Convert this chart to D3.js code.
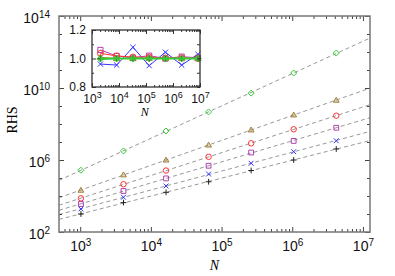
<!DOCTYPE html>
<html>
<head>
<meta charset="utf-8">
<script src="https://cdn.jsdelivr.net/npm/d3@7"></script>
<style>
  body { margin: 0; background: #fff; }
  svg { font-family: "Liberation Serif", "DejaVu Serif", serif; }
</style>
</head>
<body>
<script>

// main plot data
var nMain = [1024, 4096, 16384, 65536, 262144, 1048576, 4194304];
var rhsGreen  = [2.7e5, 3.2e6, 4.1e7, 4.7e8, 5.2e9, 6.8e10, 8.7e11];
var rhsBrown  = [2.1e4, 1.5e5, 1.0e6, 6.8e6, 4.7e7, 3.2e8, 2.1e9];
var rhsRed    = [7.4e3, 4.5e4, 2.6e5, 1.5e6, 8.5e6, 5.1e7, 2.9e8];
var rhsPurple = [3.6e3, 1.9e4, 9.5e4, 4.8e5, 2.6e6, 1.15e7, 6.2e7];
var rhsBlue   = [1.9e3, 8.5e3, 3.6e4, 1.66e5, 6.6e5, 2.9e6, 1.17e7];
var rhsBlack  = [1.0e3, 4.3e3, 1.6e4, 6.2e4, 2.6e5, 1.0e6, 4.1e6];

// inset data (ratio)
var nInset = [2048, 8192, 32768, 131072, 524288, 2097152, 8388608];
var ratioBlue   = [0.961, 0.954, 1.079, 0.950, 1.044, 0.954, 1.030];
var ratioPurple = [1.060, 1.018, 1.005, 1.020, 1.000, 1.013, 1.005];
var ratioRed    = [1.036, 1.018, 1.010, 1.010, 1.003, 1.005, 1.000];
var ratioBrown  = [1.008, 1.000, 1.000, 1.002, 1.000, 1.000, 1.000];
var ratioBlack  = [1.000, 1.000, 1.000, 1.000, 1.000, 1.000, 1.000];
var ratioGreen  = [0.998, 1.000, 1.000, 1.000, 1.000, 1.000, 1.000];

var xTicksMain = [1e3, 1e4, 1e5, 1e6, 1e7];
var yTicksMain = [1e2, 1e6, 1e10, 1e14];
var xTicksInset = [1e3, 1e4, 1e5, 1e6, 1e7];
var yTicksInset = [0.8, 1.0, 1.2];

var series = [
    {main: rhsGreen,  inset: ratioGreen,  color: "#33cc33", sym: "diamond"},
    {main: rhsBrown,  inset: ratioBrown,  color: "#a08038", sym: "triangle"},
    {main: rhsRed,    inset: ratioRed,    color: "#ff3333", sym: "circle"},
    {main: rhsPurple, inset: ratioPurple, color: "#b040b0", sym: "square"},
    {main: rhsBlue,   inset: ratioBlue,   color: "#3333ff", sym: "x"},
    {main: rhsBlack,  inset: ratioBlack,  color: "#222222", sym: "plus"}
];
var insetOrder = [4, 3, 2, 1, 5, 0];

var w = 395, h = 276;
var margin = {top: 16, left: 59, right: 25, bottom: 44};
var width = w - margin.left - margin.right;
var height = h - margin.top - margin.bottom;

var svg = d3.select("body").append("svg")
    .attr("width", w)
    .attr("height", h);

var chart = svg.append("g")
    .attr("transform", "translate(" + margin.left + "," + margin.top + ")");

var x = d3.scaleLog()
    .domain([Math.pow(10, 2.7), Math.pow(10, 7.1)])
    .range([0, width]);

var y = d3.scaleLog()
    .domain([1e2, 1e14])
    .range([height, 0]);

// marker path
var markerPath = function(type, s) {
    if (type === "x") {
        return "M" + (-s) + "," + (-s) + "L" + s + "," + s + "M" + (-s) + "," + s + "L" + s + "," + (-s);
    }
    if (type === "plus") {
        return "M" + (-s * 1.2) + ",0L" + (s * 1.2) + ",0M0," + (-s * 1.2) + "L0," + (s * 1.2);
    }
    if (type === "diamond") {
        return "M0," + (-s * 1.25) + "L" + (s * 1.25) + ",0L0," + (s * 1.25) + "L" + (-s * 1.25) + ",0Z";
    }
    if (type === "triangle") {
        return "M0," + (-s * 1.2) + "L" + (s * 1.2) + "," + (s * 0.85) + "L" + (-s * 1.2) + "," + (s * 0.85) + "Z";
    }
    if (type === "square") {
        return "M" + (-s) + "," + (-s) + "H" + s + "V" + s + "H" + (-s) + "Z";
    }
    return d3.symbol().type(d3.symbolCircle).size(Math.PI * s * s * 1.3)();
};

var supLabel = function(sel, size) {
    sel.each(function(d) {
        var t = d3.select(this);
        var e = Math.round(Math.log10(d));
        t.text(null);
        t.append("tspan").text("10");
        t.append("tspan").attr("dy", "-0.45em").attr("font-size", size).text(e);
    });
};

var logMinor = function(lo, hi) {
    var out = [];
    for (var p = Math.floor(Math.log10(lo)); p <= Math.ceil(Math.log10(hi)); p++) {
        for (var k = 1; k < 10; k++) {
            var v = k * Math.pow(10, p);
            if (v >= lo && v <= hi) out.push(v);
        }
    }
    return out;
};

// dashed fit lines (least squares in log-log)
series.forEach(function(s) {
    var lx = nMain.map(function(d) { return Math.log10(d); });
    var ly = s.main.map(function(d) { return Math.log10(d); });
    var mx = d3.mean(lx), my = d3.mean(ly);
    var num = d3.sum(lx, function(d, i) { return (d - mx) * (ly[i] - my); });
    var den = d3.sum(lx, function(d) { return (d - mx) * (d - mx); });
    var b = num / den, a = my - b * mx;
    var xd = x.domain();
    var pts = xd.map(function(d) { return [d, Math.pow(10, a + b * Math.log10(d))]; });
    chart.append("line")
        .style("stroke", "#999")
        .style("stroke-width", 1)
        .style("stroke-dasharray", "4,3")
        .attr("x1", x(pts[0][0]))
        .attr("y1", y(pts[0][1]))
        .attr("x2", x(pts[1][0]))
        .attr("y2", y(pts[1][1]));
});

// markers in main plot
series.forEach(function(s) {
    chart.selectAll(null)
        .data(s.main)
        .enter()
        .append("path")
        .attr("transform", function(d, i) { return "translate(" + x(nMain[i]) + "," + y(d) + ")"; })
        .attr("d", markerPath(s.sym, 2.4))
        .style("fill", s.sym === "triangle" ? "rgba(160,128,56,0.35)" : "none")
        .style("stroke", s.color)
        .style("stroke-width", 1);
});

// axes main
var axisColor = "#777";

var xMinor = logMinor(x.domain()[0], x.domain()[1]).filter(function(d) { return xTicksMain.indexOf(d) < 0; });
var yMinor = [];
for (var p = 3; p <= 13; p++) { if (yTicksMain.indexOf(Math.pow(10, p)) < 0) yMinor.push(Math.pow(10, p)); }

var xAxis = d3.axisBottom(x).tickValues(xTicksMain).tickSizeInner(-5).tickSizeOuter(0).tickPadding(9);
var xAxisTop = d3.axisTop(x).tickValues(xTicksMain).tickSizeInner(-5).tickSizeOuter(0).tickFormat("");
var xAxisMinor = d3.axisBottom(x).tickValues(xMinor).tickSizeInner(-3).tickSizeOuter(0).tickFormat("");
var xAxisMinorTop = d3.axisTop(x).tickValues(xMinor).tickSizeInner(-3).tickSizeOuter(0).tickFormat("");
var yAxis = d3.axisLeft(y).tickValues(yTicksMain).tickSizeInner(-5).tickSizeOuter(0).tickPadding(9);
var yAxisRight = d3.axisRight(y).tickValues(yTicksMain).tickSizeInner(-5).tickSizeOuter(0).tickFormat("");
var yAxisMinor = d3.axisLeft(y).tickValues(yMinor).tickSizeInner(-3).tickSizeOuter(0).tickFormat("");
var yAxisMinorRight = d3.axisRight(y).tickValues(yMinor).tickSizeInner(-3).tickSizeOuter(0).tickFormat("");

var gx = chart.append("g").attr("transform", "translate(0," + height + ")").call(xAxis);
chart.append("g").attr("transform", "translate(0," + height + ")").call(xAxisMinor);
chart.append("g").call(xAxisTop);
chart.append("g").call(xAxisMinorTop);
var gy = chart.append("g").call(yAxis);
chart.append("g").call(yAxisMinor);
chart.append("g").attr("transform", "translate(" + width + ",0)").call(yAxisRight);
chart.append("g").attr("transform", "translate(" + width + ",0)").call(yAxisMinorRight);

chart.selectAll(".domain").remove();
chart.selectAll(".tick line").style("stroke", "#444");

gx.selectAll("text").style("font-size", "14px").style("fill", "#111").call(supLabel, "10px");
gy.selectAll("text").style("font-size", "14px").style("fill", "#111").attr("dy", "0.45em").call(supLabel, "10px");

chart.append("rect")
    .attr("width", width)
    .attr("height", height)
    .style("fill", "none")
    .style("stroke", axisColor)
    .style("stroke-width", 1.5);

svg.append("text")
    .attr("x", margin.left + x(Math.pow(10, 4.9)))
    .attr("y", 270)
    .attr("text-anchor", "middle")
    .style("font-size", "14px")
    .style("font-style", "italic")
    .text("N");

svg.append("text")
    .attr("transform", "translate(17,120) rotate(-90)")
    .attr("text-anchor", "middle")
    .style("font-size", "14px")
    .text("RHS");

// inset
var inset = svg.append("g").attr("transform", "translate(92,30)");
var iw = 108, ih = 57;

var xi = d3.scaleLog().domain([1e3, 1e7]).range([0, iw]);
var yi = d3.scaleLinear().domain([0.8, 1.2]).range([ih, 0]);

inset.append("rect").attr("width", iw).attr("height", ih).style("fill", "#fff");

var line = d3.line()
    .x(function(d, i) { return xi(nInset[i]); })
    .y(function(d) { return yi(d); });

insetOrder.forEach(function(k) {
    var s = series[k];
    inset.append("path")
        .datum(s.inset)
        .attr("d", line)
        .style("fill", "none")
        .style("stroke", s.color)
        .style("stroke-width", s.sym === "diamond" ? 2.2 : 1);
    inset.selectAll(null)
        .data(s.inset)
        .enter()
        .append("path")
        .attr("transform", function(d, i) { return "translate(" + xi(nInset[i]) + "," + yi(d) + ")"; })
        .attr("d", markerPath(s.sym, 2.6))
        .style("fill", s.sym === "diamond" || s.sym === "triangle" ? s.color : "none")
        .style("fill-opacity", 0.5)
        .style("stroke", s.color)
        .style("stroke-width", 1);
});

var xiMinor = logMinor(1e3, 1e7).filter(function(d) { return xTicksInset.indexOf(d) < 0; });
var yiMinor = [0.9, 1.1];

var xiAxis = d3.axisBottom(xi).tickValues(xTicksInset).tickSizeInner(-4).tickSizeOuter(0).tickPadding(7);
inset.append("g").attr("transform", "translate(0," + ih + ")").call(xiAxis)
    .selectAll("text").style("font-size", "12px").style("fill", "#111").call(supLabel, "9px");
inset.append("g").attr("transform", "translate(0," + ih + ")")
    .call(d3.axisBottom(xi).tickValues(xiMinor).tickSizeInner(-2).tickSizeOuter(0).tickFormat(""));
inset.append("g").call(d3.axisTop(xi).tickValues(xTicksInset).tickSizeInner(-4).tickSizeOuter(0).tickFormat(""));
inset.append("g").call(d3.axisTop(xi).tickValues(xiMinor).tickSizeInner(-2).tickSizeOuter(0).tickFormat(""));

inset.append("g")
    .call(d3.axisLeft(yi).tickValues(yTicksInset).tickSizeInner(-4).tickSizeOuter(0).tickPadding(6).tickFormat(d3.format(".1f")))
    .selectAll("text").style("font-size", "12px").style("fill", "#111");
inset.append("g").call(d3.axisLeft(yi).tickValues(yiMinor).tickSizeInner(-2).tickSizeOuter(0).tickFormat(""));
inset.append("g").attr("transform", "translate(" + iw + ",0)")
    .call(d3.axisRight(yi).tickValues(yTicksInset.concat(yiMinor)).tickSizeInner(-3).tickSizeOuter(0).tickFormat(""));

inset.selectAll(".domain").remove();
inset.selectAll(".tick line").style("stroke", "#333");

inset.append("rect")
    .attr("width", iw)
    .attr("height", ih)
    .style("fill", "none")
    .style("stroke", "#333")
    .style("stroke-width", 1.3);

inset.append("text")
    .attr("x", xi(Math.pow(10, 4.95)))
    .attr("y", ih + 29)
    .attr("text-anchor", "middle")
    .style("font-size", "12px")
    .style("font-style", "italic")
    .text("N");

</script>
</body>
</html>
